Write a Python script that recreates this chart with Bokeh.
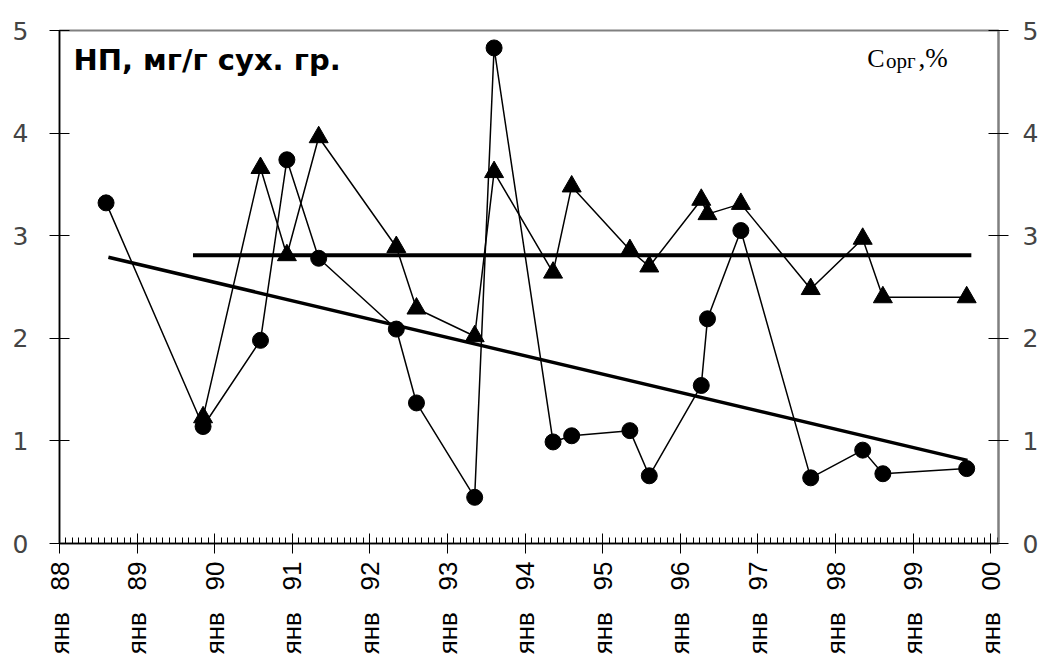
import math
from bokeh.plotting import figure
from bokeh.models import Range1d, LinearAxis, SingleIntervalTicker, Label, ColumnDataSource
from bokeh.embed import file_html
from bokeh.resources import INLINE

# sampling dates (decimal years)
dates = [1988.60, 1989.85, 1990.59, 1990.93, 1991.34, 1992.34, 1992.60, 1993.35, 1993.60,
         1994.36, 1994.60, 1995.35, 1995.60, 1996.27, 1996.35, 1996.78, 1997.68, 1998.35,
         1998.61, 1999.69]
# НП, мг/г сух. гр. (circles)
np_values = [3.32, 1.14, 1.98, 3.74, 2.78, 2.09, 1.37, 0.45, 4.83, 0.99, 1.05, 1.10, 0.66,
             1.54, 2.19, 3.05, 0.64, 0.91, 0.68, 0.73]
# C орг, % (triangles)
corg_dates = dates[1:]
corg_values = [1.23, 3.66, 2.81, 3.96, 2.89, 2.29, 2.02, 3.62, 2.64, 3.48, 2.86, 2.70, 3.35,
               3.21, 3.31, 2.48, 2.97, 2.40, 2.40]
# mean level of C орг and trend of НП
mean_x = [1989.72, 1999.75]
mean_y = [2.81, 2.81]
trend_x = [1988.63, 1999.70]
trend_y = [2.79, 0.81]

tick_years = list(range(1988, 2001))
tick_labels = ["янв \u00a0\u00a0" + str(y)[2:] for y in tick_years]

FONT = "Liberation Sans"
WIDE = "DejaVu Sans"

p = figure(width=1045, height=668, output_backend="svg", toolbar_location=None,
           x_range=Range1d(1988, 2000.10), y_range=Range1d(0, 5),
           min_border_left=59, min_border_right=47, min_border_top=30, min_border_bottom=125,
           y_axis_location="left")
p.xgrid.visible = False
p.ygrid.visible = False
p.outline_line_color = "#808080"
p.outline_line_width = 2
p.background_fill_color = "white"
p.border_fill_color = "white"

# x axis
xa = p.xaxis[0]
xa.ticker = SingleIntervalTicker(interval=1, num_minor_ticks=12)
xa.major_label_overrides = {y: l for y, l in zip(tick_years, tick_labels)}
xa.major_label_orientation = math.pi / 2
xa.major_label_text_font = FONT
xa.major_label_text_font_size = "26px"
xa.major_label_text_color = "black"
xa.major_label_standoff = 8
xa.major_tick_out = 10
xa.major_tick_in = 10
xa.minor_tick_out = 0
xa.minor_tick_in = 6
xa.axis_line_color = "black"
xa.axis_line_width = 1.5
xa.major_tick_line_color = "black"
xa.minor_tick_line_color = "black"

# y axes
ya = p.yaxis[0]
ya.ticker = SingleIntervalTicker(interval=1, num_minor_ticks=0)
ya.major_label_text_font = WIDE
ya.major_label_text_font_size = "25px"
ya.major_label_standoff = 21
ya.major_tick_out = 10
ya.major_tick_in = 10
ya.minor_tick_line_color = None
ya.axis_line_color = "black"
ya.axis_line_width = 1.5

ra = LinearAxis(ticker=SingleIntervalTicker(interval=1, num_minor_ticks=0))
ra.major_label_text_font = WIDE
ra.major_label_text_font_size = "25px"
ra.major_label_standoff = 14
ra.major_tick_out = 10
ra.major_tick_in = 10
ra.minor_tick_line_color = None
ra.axis_line_color = "#808080"
ra.axis_line_width = 2
p.add_layout(ra, "right")

src_np = ColumnDataSource(dict(x=dates, y=np_values))
src_c = ColumnDataSource(dict(x=corg_dates, y=corg_values))

p.line("x", "y", source=src_np, line_color="black", line_width=1.5)
p.line("x", "y", source=src_c, line_color="black", line_width=1.5)
p.line(mean_x, mean_y, line_color="black", line_width=4)
p.line(trend_x, trend_y, line_color="black", line_width=3.5)
p.scatter("x", "y", source=src_np, marker="circle", size=16, fill_color="black", line_color="black")
p.scatter("x", "y", source=src_c, marker="triangle", size=19, fill_color="black", line_color="black")

p.add_layout(Label(x=1988.18, y=4.71, text="НП, мг/г сух. гр.", text_font=WIDE,
                   text_font_size="29px", text_font_style="bold", text_color="black",
                   text_baseline="alphabetic"))
SERIF = "Liberation Serif"
p.add_layout(Label(x=1998.41, y=4.73, text="C", text_font=SERIF, text_font_size="26px",
                   text_color="black", text_baseline="alphabetic"))
p.add_layout(Label(x=1998.65, y=4.705, text="орг", text_font=SERIF, text_font_size="21px",
                   text_color="black", text_baseline="alphabetic"))
p.add_layout(Label(x=1999.07, y=4.73, text=",%", text_font=SERIF, text_font_size="27px",
                   text_color="black", text_baseline="alphabetic"))

open("out.html", "w").write(file_html(p, INLINE))
